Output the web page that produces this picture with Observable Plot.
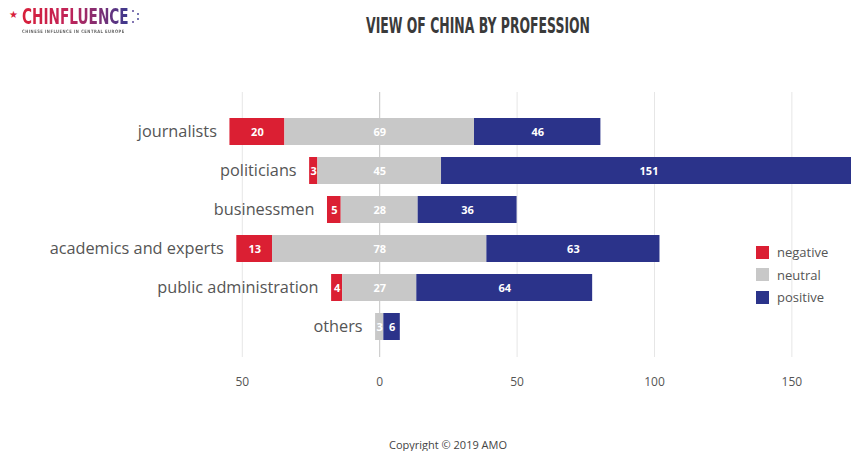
<!DOCTYPE html>
<html>
<head>
<meta charset="utf-8">
<script src="https://cdn.jsdelivr.net/npm/d3@7"></script>
<script src="https://cdn.jsdelivr.net/npm/@observablehq/plot@0.6"></script>
<style>
  html, body { margin: 0; padding: 0; background: #fff; }
  #wrap { position: relative; width: 851px; height: 451px; overflow: hidden; font-family: "Open Sans", sans-serif; }
  #chart { position: absolute; left: 0; top: 0; }
  .title { position: absolute; left: 478px; top: 13px; transform: translateX(-50%) scaleX(0.565); transform-origin: center; white-space: nowrap; font-family: "DejaVu Sans", sans-serif; font-weight: bold; font-size: 22px; line-height: 26px; color: #3a3a3a; }
  .logo { position: absolute; left: 0; top: 0; width: 160px; height: 40px; }
  .logo .star { position: absolute; left: 9px; top: 9px; color: #d8203a; font-size: 10px; line-height: 10px; }
  .logo .name { position: absolute; left: 22px; top: 5px; transform: scaleX(0.65); transform-origin: left top; font-family: "DejaVu Sans", sans-serif; font-weight: bold; font-size: 21px; line-height: 24px; white-space: nowrap;
    background: linear-gradient(90deg, #d8203a 0%, #c0245a 45%, #3b3a8f 100%); -webkit-background-clip: text; background-clip: text; color: transparent; }
  .logo svg.dots { position: absolute; left: 131px; top: 9px; }
  .logo .sub { position: absolute; left: 22px; top: 29px; transform: scaleX(0.8); transform-origin: left top; font-family: "DejaVu Sans", sans-serif; font-weight: bold; font-size: 4.6px; line-height: 5px; letter-spacing: 0.6px; color: #666; white-space: nowrap; }
  .legend { position: absolute; left: 756px; top: 241px; font-size: 13px; color: #555; }
  .legend div { height: 22.5px; display: flex; align-items: center; }
  .legend span.sw { display: inline-block; width: 13px; height: 13px; margin-right: 8px; }
  .copy { position: absolute; left: 389px; top: 439px; font-size: 11px; line-height: 12px; color: #444; }
</style>
</head>
<body>
<div id="wrap">
  <div id="chart"></div>
  <div class="logo">
    <span class="star">★</span>
    <span class="name">CHINFLUENCE</span>
    <svg class="dots" width="10" height="16" viewBox="0 0 10 16">
      <circle cx="2" cy="2" r="1" fill="#5a4a9a"/><circle cx="7" cy="5" r="1" fill="#4a4a9a"/>
      <circle cx="7" cy="10" r="1" fill="#4a4a9a"/><circle cx="2" cy="13" r="1" fill="#5a4a9a"/>
    </svg>
    <span class="sub">CHINESE INFLUENCE IN CENTRAL EUROPE</span>
  </div>
  <div class="title">VIEW OF CHINA BY PROFESSION</div>
  <div class="legend" id="legend"></div>
  <div class="copy">Copyright © 2019 AMO</div>
</div>
<script>
const categories = ["journalists", "politicians", "businessmen", "academics and experts", "public administration", "others"];
const negative = [20, 3, 5, 13, 4, 0];
const neutral  = [69, 45, 28, 78, 27, 3];
const positive = [46, 151, 36, 63, 64, 6];
const seriesNames = ["negative", "neutral", "positive"];
const seriesColors = ["#db1f33", "#c8c8c8", "#2b338a"];
const xTicks = [-50, 0, 50, 100, 150];

const segments = [];
const labels = [];
categories.forEach((c, i) => {
  const half = neutral[i] / 2;
  const parts = [
    {s: "negative", v: negative[i], x1: -half - negative[i], x2: -half},
    {s: "neutral", v: neutral[i], x1: -half, x2: half},
    {s: "positive", v: positive[i], x1: half, x2: half + positive[i]}
  ];
  parts.forEach(p => { if (p.v > 0) segments.push({cat: c, ...p}); });
  labels.push({cat: c, x: -half - negative[i]});
});

const chart = Plot.plot({
  width: 851,
  height: 451,
  marginLeft: 0,
  marginRight: 0,
  marginTop: 92,
  marginBottom: 94,
  style: {fontFamily: "Open Sans, sans-serif", background: "transparent"},
  x: {domain: [-138, 171.7], axis: null},
  y: {domain: categories, axis: null, paddingInner: 0.3, paddingOuter: 0.48, align: 0.6},
  color: {domain: seriesNames, range: seriesColors},
  marks: [
    Plot.gridX({ticks: [-50, 50, 100, 150], stroke: "#e6e6e6", strokeOpacity: 1}),
    Plot.ruleX([0], {stroke: "#c4c4c4"}),
    Plot.barX(segments, {y: "cat", x1: "x1", x2: "x2", fill: "s"}),
    Plot.text(segments, {y: "cat", x: d => (d.x1 + d.x2) / 2, text: d => String(d.v), fill: "white", fontWeight: "bold", fontSize: 11}),
    Plot.text(labels, {y: "cat", x: "x", text: "cat", textAnchor: "end", dx: -13, fontSize: 16.3, fill: "#555"}),
    Plot.axisX({ticks: xTicks, tickFormat: d => Math.abs(d), tickSize: 0, tickPadding: 20, fontSize: 12, color: "#555"})
  ]
});
document.getElementById("chart").appendChild(chart);

const leg = document.getElementById("legend");
seriesNames.forEach((n, i) => {
  const row = document.createElement("div");
  row.innerHTML = `<span class="sw" style="background:${seriesColors[i]}"></span>${n}`;
  leg.appendChild(row);
});
</script>
</body>
</html>
